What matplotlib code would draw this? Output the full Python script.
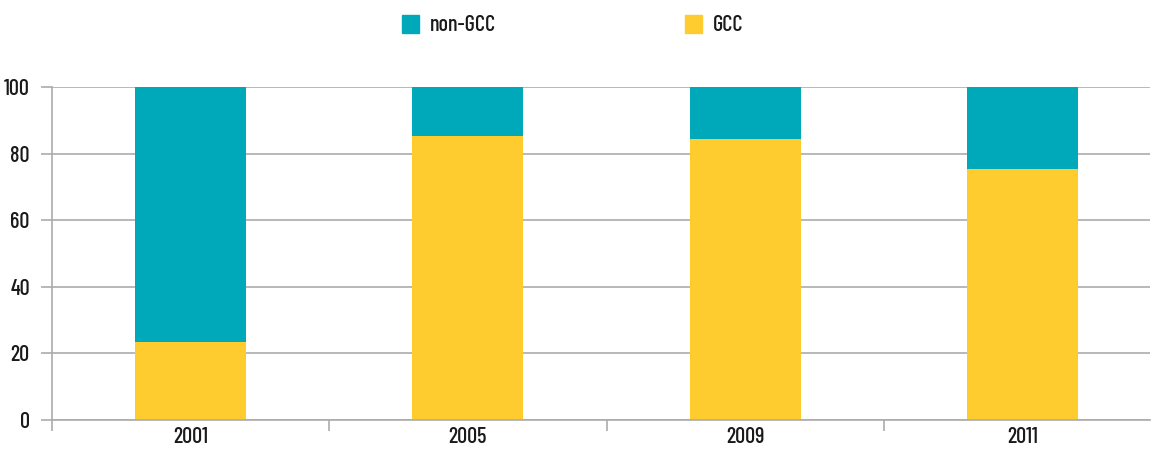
import numpy as np
import matplotlib.pyplot as plt
from matplotlib.patches import Patch

years = ['2001', '2005', '2009', '2011']
gcc = [23.5, 85.2, 84.4, 75.4]
non_gcc = [76.5, 14.8, 15.6, 24.6]

teal = '#00A9B9'
yellow = '#FECC2F'
grey = '#ABABAB'

plt.rcParams['font.family'] = ['Barlow Condensed', 'DejaVu Sans']
plt.rcParams['font.size'] = 16
plt.rcParams['font.weight'] = 'medium'
plt.rcParams['text.color'] = '#1a1a1a'

fig = plt.figure(figsize=(11.52, 4.5), dpi=100)
ax = fig.add_axes([52 / 1152, 1 - 420 / 450, 1098 / 1152, 333 / 450])

x = np.arange(len(years))
ax.bar(x, gcc, width=0.4, color=yellow, label='GCC', zorder=2)
ax.bar(x, non_gcc, width=0.4, bottom=gcc, color=teal, label='non-GCC', zorder=2)

ax.set_xlim(-0.5, 3.46)
ax.set_ylim(0, 100)
ax.set_yticks([0, 20, 40, 60, 80, 100])
ax.grid(axis='y', color=grey, lw=1.2, zorder=0)

ax.set_xticks(x)
ax.set_xticklabels(years)
ax.set_xticks(np.arange(-0.5, 3.5, 1), minor=True)
ax.tick_params(axis='x', which='major', length=0, pad=5, labelcolor='#1a1a1a')
ax.tick_params(axis='x', which='minor', length=8, color=grey, width=1.2)
ax.tick_params(axis='y', length=8, color=grey, width=1.2, pad=8, labelcolor='#1a1a1a')

for s in ['top', 'right']:
    ax.spines[s].set_visible(False)
for s in ['left', 'bottom']:
    ax.spines[s].set_color(grey)
    ax.spines[s].set_linewidth(1.2)

handles = [Patch(color=teal, label='non-GCC'), Patch(color=yellow, label='GCC')]
fig.legend(handles=handles, loc='upper center', bbox_to_anchor=(0.497, 1.012), ncol=2,
           frameon=False, handlelength=0.77, handleheight=0.9, handletextpad=0.5,
           columnspacing=8.5)

fig.savefig('out.png', dpi=100)
